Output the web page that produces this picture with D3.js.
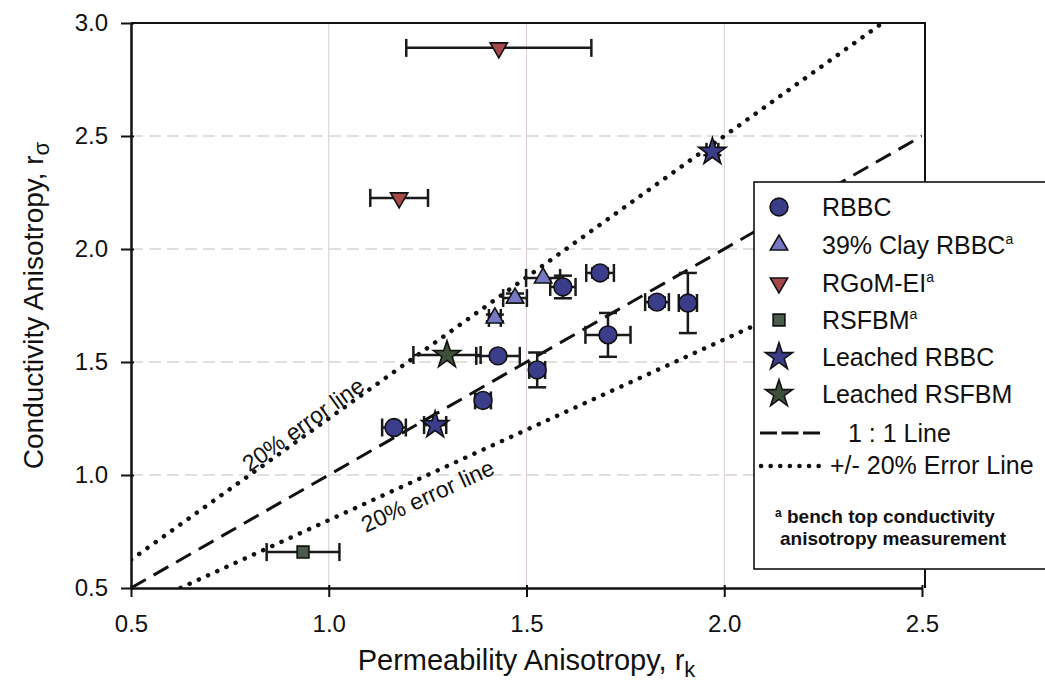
<!DOCTYPE html>
<html>
<head>
<meta charset="utf-8">
<script src="https://cdnjs.cloudflare.com/ajax/libs/d3/7.8.5/d3.min.js"></script>
<style>
  body { margin: 0; background: #fff; }
  svg { display: block; font-family: "Liberation Sans", Arial, sans-serif; }
</style>
</head>
<body>
<script>
'use strict';

// axis ticks
const xTicks = [0.5, 1.0, 1.5, 2.0, 2.5];
const yTicks = [0.5, 1.0, 1.5, 2.0, 2.5, 3.0];

// series: x, y, x error, y error
const rbbc = [
  {x: 1.165, y: 1.21, xe: 0.03, ye: 0},
  {x: 1.39, y: 1.33, xe: 0.02, ye: 0.025},
  {x: 1.428, y: 1.527, xe: 0.055, ye: 0},
  {x: 1.527, y: 1.465, xe: 0.02, ye: 0.077},
  {x: 1.592, y: 1.832, xe: 0.032, ye: 0.05},
  {x: 1.686, y: 1.894, xe: 0.035, ye: 0.02},
  {x: 1.706, y: 1.62, xe: 0.057, ye: 0.097},
  {x: 1.83, y: 1.765, xe: 0.03, ye: 0.02},
  {x: 1.908, y: 1.761, xe: 0.023, ye: 0.133}
];
const clayRbbc = [
  {x: 1.42, y: 1.695, xe: 0.015, ye: 0.015},
  {x: 1.471, y: 1.783, xe: 0.03, ye: 0.02},
  {x: 1.542, y: 1.872, xe: 0.043, ye: 0}
];
const rgom = [
  {x: 1.43, y: 2.89, xe: 0.234, ye: 0},
  {x: 1.178, y: 2.226, xe: 0.073, ye: 0}
];
const rsfbm = [
  {x: 0.935, y: 0.659, xe: 0.092, ye: 0}
];
const leachedRbbc = [
  {x: 1.269, y: 1.221, xe: 0.028, ye: 0},
  {x: 1.97, y: 2.43, xe: 0.015, ye: 0.015}
];
const leachedRsfbm = [
  {x: 1.299, y: 1.531, xe: 0.085, ye: 0}
];

// reference lines (1:1 and +/- 20%)
const oneToOne = [[0.5, 0.5], [2.5, 2.5]];
const upperErr = [[0.5, 0.625], [2.4, 3.0]];
const lowerErr = [[0.625, 0.5], [2.5, 2.0]];

const legendItems = ['RBBC', '39% Clay RBBC', 'RGoM-EI', 'RSFBM', 'Leached RBBC', 'Leached RSFBM'];
const legendSup = [false, true, true, true, false, false];

const svg = d3.select('body').append('svg')
  .attr('width', 1045)
  .attr('height', 696);

const x = d3.scaleLinear().domain([0.5, 2.5]).range([131, 922]);
const y = d3.scaleLinear().domain([0.5, 3.0]).range([588, 23]);

svg.append('clipPath').attr('id', 'plot')
  .append('rect')
  .attr('x', x(0.5)).attr('y', y(3.0))
  .attr('width', x(2.5) - x(0.5)).attr('height', y(0.5) - y(3.0));

// grid lines
svg.append('g').selectAll('line')
  .data(yTicks.slice(1, -1))
  .enter().append('line')
  .attr('x1', x(0.5)).attr('x2', x(2.5))
  .attr('y1', d => y(d)).attr('y2', d => y(d))
  .attr('stroke', '#c4bfbf').attr('stroke-width', 1)
  .attr('stroke-dasharray', '12,6');
svg.append('g').selectAll('line')
  .data(xTicks.slice(1, -1))
  .enter().append('line')
  .attr('x1', d => x(d)).attr('x2', d => x(d))
  .attr('y1', y(3.0)).attr('y2', y(0.5))
  .attr('stroke', '#d9cccc').attr('stroke-width', 1);

// reference lines
const line = d3.line().x(d => x(d[0])).y(d => y(d[1]));
const refs = svg.append('g').attr('clip-path', 'url(#plot)');
refs.append('path').attr('d', line(oneToOne))
  .attr('fill', 'none').attr('stroke', '#111').attr('stroke-width', 3)
  .attr('stroke-dasharray', '17,9');
[upperErr, lowerErr].forEach(l => {
  refs.append('path').attr('d', line(l))
    .attr('fill', 'none').attr('stroke', '#111').attr('stroke-width', 4.5)
    .attr('stroke-linecap', 'round')
    .attr('stroke-dasharray', '0.1,10');
});

// "20% error line" labels along the dotted lines
function lineLabel(l, xAt, offset) {
  const a = l[0], b = l[1];
  const slope = (b[1] - a[1]) / (b[0] - a[0]);
  const yAt = a[1] + slope * (xAt - a[0]);
  const px = x(xAt), py = y(yAt);
  const ang = Math.atan2(y(b[1]) - y(a[1]), x(b[0]) - x(a[0])) * 180 / Math.PI;
  svg.append('text')
    .attr('transform', `translate(${px},${py}) rotate(${ang})`)
    .attr('y', offset)
    .attr('text-anchor', 'middle')
    .style('font-size', '23px')
    .attr('fill', '#111')
    .text('20% error line');
}
lineLabel(upperErr, 0.95, -2);
lineLabel(lowerErr, 1.23, 27);

// error bars
function errorBars(data) {
  const g = svg.append('g').attr('stroke', '#1a1a1a').attr('stroke-width', 2.5);
  const cap = 9;
  data.forEach(d => {
    if (d.xe > 0) {
      g.append('line').attr('x1', x(d.x - d.xe)).attr('x2', x(d.x + d.xe))
        .attr('y1', y(d.y)).attr('y2', y(d.y));
      [d.x - d.xe, d.x + d.xe].forEach(v => {
        g.append('line').attr('x1', x(v)).attr('x2', x(v))
          .attr('y1', y(d.y) - cap).attr('y2', y(d.y) + cap);
      });
    }
    if (d.ye > 0) {
      g.append('line').attr('x1', x(d.x)).attr('x2', x(d.x))
        .attr('y1', y(d.y - d.ye)).attr('y2', y(d.y + d.ye));
      [d.y - d.ye, d.y + d.ye].forEach(v => {
        g.append('line').attr('x1', x(d.x) - cap).attr('x2', x(d.x) + cap)
          .attr('y1', y(v)).attr('y2', y(v));
      });
    }
  });
}

// marker styles for each series
const styles = [
  {type: d3.symbolCircle, size: 250, fill: '#3b3c8a', rot: 0},
  {type: d3.symbolTriangle, size: 130, fill: '#7678c4', rot: 0},
  {type: d3.symbolTriangle, size: 130, fill: '#a5484a', rot: 180},
  {type: d3.symbolSquare, size: 140, fill: '#4b5a4a', rot: 0},
  {type: d3.symbolStar, size: 230, fill: '#3b3c8a', rot: 0},
  {type: d3.symbolStar, size: 230, fill: '#3e4f3a', rot: 0}
];
const series = [rbbc, clayRbbc, rgom, rsfbm, leachedRbbc, leachedRsfbm];

function marker(g, s, px, py) {
  g.append('path')
    .attr('d', d3.symbol().type(s.type).size(s.size)())
    .attr('transform', `translate(${px},${py}) rotate(${s.rot})`)
    .attr('fill', s.fill)
    .attr('stroke', '#111')
    .attr('stroke-width', 1.6);
}

series.forEach(errorBars);
series.forEach((data, i) => {
  const g = svg.append('g');
  data.forEach(d => marker(g, styles[i], x(d.x), y(d.y)));
});

// plot frame (top and right)
svg.append('path')
  .attr('d', `M${x(0.5)},${y(3.0)}H${x(2.5) + 3}V${y(0.5)}`)
  .attr('fill', 'none').attr('stroke', '#111').attr('stroke-width', 2);

// axes
const yAxis = d3.axisLeft(y).tickValues(yTicks).tickFormat(d3.format('.1f'))
  .tickSizeInner(10).tickSizeOuter(0).tickPadding(13);
const gy = svg.append('g').attr('transform', `translate(${x(0.5)},0)`).call(yAxis);
const xAxis = d3.axisBottom(x).tickValues(xTicks).tickFormat(d3.format('.1f'))
  .tickSizeInner(9).tickSizeOuter(0).tickPadding(18);
const gx = svg.append('g').attr('transform', `translate(0,${y(0.5)})`).call(xAxis);
[gx, gy].forEach(g => {
  g.select('.domain').attr('stroke', '#111').attr('stroke-width', 2.5);
  g.selectAll('.tick line').attr('stroke', '#111').attr('stroke-width', 2);
  g.selectAll('.tick text').attr('fill', '#111')
    .style('font-size', '24px').style('font-family', '"Liberation Sans", Arial, sans-serif');
});
gy.selectAll('.tick line').attr('x1', 3);
gx.selectAll('.tick line').attr('y1', -3);

// axis titles
const xt = svg.append('text')
  .attr('x', (x(0.5) + x(2.5)) / 2).attr('y', 670)
  .attr('text-anchor', 'middle')
  .style('font-size', '29px').attr('fill', '#111');
xt.append('tspan').text('Permeability Anisotropy, r');
xt.append('tspan').attr('dy', 7).style('font-size', '22px').text('k');

const yt = svg.append('text')
  .attr('transform', `translate(43,${(y(0.5) + y(3.0)) / 2}) rotate(-90)`)
  .attr('text-anchor', 'middle')
  .style('font-size', '28px').attr('fill', '#111');
yt.append('tspan').text('Conductivity Anisotropy, r');
yt.append('tspan').attr('dy', 6).style('font-size', '22px').text('σ');

// legend
const lg = svg.append('g');
lg.append('rect')
  .attr('x', 754).attr('y', 182).attr('width', 400).attr('height', 387)
  .attr('fill', '#fff').attr('stroke', '#111').attr('stroke-width', 1.6);
// plot right border below legend
svg.append('line')
  .attr('x1', x(2.5) + 3).attr('x2', x(2.5) + 3)
  .attr('y1', 569).attr('y2', y(0.5))
  .attr('stroke', '#111').attr('stroke-width', 2);

const rowY = [207, 245, 283, 320, 357, 394];
legendItems.forEach((name, i) => {
  marker(lg, styles[i], 779, rowY[i]);
  const t = lg.append('text')
    .attr('x', 822).attr('y', rowY[i] + 9)
    .style('font-size', '25px').attr('fill', '#111')
    .text(name);
  if (legendSup[i]) {
    t.append('tspan').attr('dy', -10).style('font-size', '14px').text('a');
  }
});

lg.append('line').attr('x1', 760).attr('x2', 820).attr('y1', 433).attr('y2', 433)
  .attr('stroke', '#111').attr('stroke-width', 3).attr('stroke-dasharray', '17,4.5');
lg.append('text').attr('x', 848).attr('y', 442)
  .style('font-size', '25px').attr('fill', '#111').text('1 : 1 Line');

lg.append('line').attr('x1', 761).attr('x2', 820).attr('y1', 466).attr('y2', 466)
  .attr('stroke', '#111').attr('stroke-width', 4.5).attr('stroke-linecap', 'round')
  .attr('stroke-dasharray', '0.1,9.5');
lg.append('text').attr('x', 830).attr('y', 474)
  .style('font-size', '25px').attr('fill', '#111').text('+/- 20% Error Line');

const fn = lg.append('text').attr('y', 523)
  .style('font-size', '19px').style('font-weight', 'bold').attr('fill', '#111');
fn.append('tspan').attr('x', 775).attr('dy', -6).style('font-size', '12px').text('a');
fn.append('tspan').attr('dy', 6).text(' bench top conductivity');
lg.append('text').attr('x', 780).attr('y', 545)
  .style('font-size', '19px').style('font-weight', 'bold').attr('fill', '#111')
  .text('anisotropy measurement');
</script>
</body>
</html>
